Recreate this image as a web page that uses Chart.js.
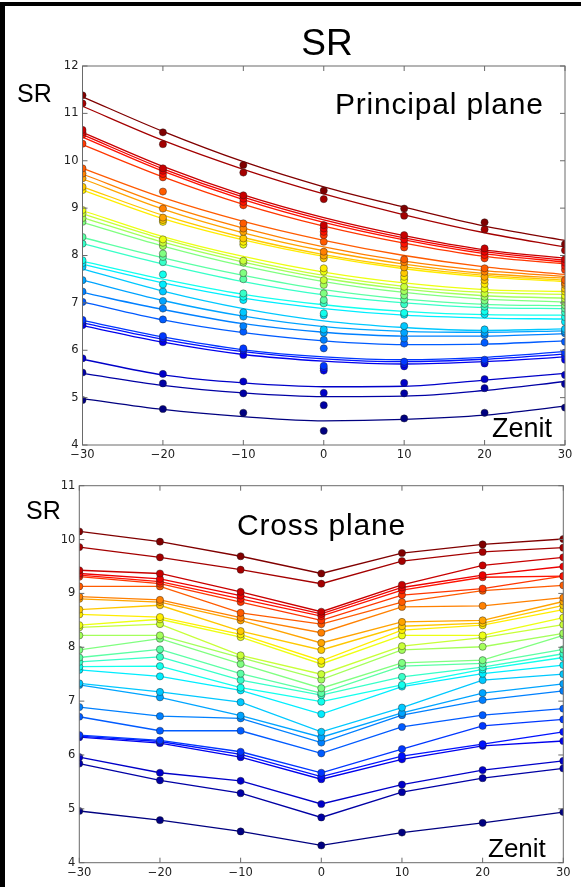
<!DOCTYPE html>
<html>
<head>
<meta charset="utf-8">
<script src="https://cdn.jsdelivr.net/npm/chart.js@4.4.1/dist/chart.umd.min.js"></script>
<style>
  html, body { margin: 0; padding: 0; background: #fff; }
  #page { position: relative; width: 581px; height: 887px; overflow: hidden; background: #fff; }
  #edge { position: absolute; left: 0; top: 2px; width: 600px; height: 900px; border-left: 5px solid #000; border-top: 4px solid #000; box-sizing: border-box; pointer-events: none; }
  canvas { position: absolute; left: 0; }
  #top { top: 0; }
  #bot { top: 470px; }
  .lbl { position: absolute; font-family: "Liberation Sans", Arial, sans-serif; color: #000; line-height: 1; white-space: nowrap; }
</style>
</head>
<body>
<div id="page">
  <canvas id="top" width="581" height="470"></canvas>
  <canvas id="bot" width="581" height="417"></canvas>
  <div class="lbl" style="left:277px;width:100px;text-align:center;top:24px;font-size:37px">SR</div>
  <div class="lbl" style="left:17px;top:81px;font-size:25px">SR</div>
  <div class="lbl" style="left:335px;top:89px;font-size:30px;letter-spacing:0.8px">Principal plane</div>
  <div class="lbl" style="left:492px;top:415px;font-size:27px">Zenit</div>
  <div class="lbl" style="left:26px;top:498px;font-size:25px">SR</div>
  <div class="lbl" style="left:237px;top:510px;font-size:30px;letter-spacing:0.8px">Cross plane</div>
  <div class="lbl" style="left:488px;top:835px;font-size:26px">Zenit</div>
  <div id="edge"></div>
</div>
<script>
// zenith angles (deg)
const zenith = [-30, -20, -10, 0, 10, 20, 30];

// principal plane: measured SR, one row per band (highest first)
const principalPts = [
  [11.38, 10.60, 9.91, 9.37, 8.99, 8.70, 8.24],
  [11.21, 10.35, 9.75, 9.19, 8.84, 8.55, 8.11],
  [10.65, 9.84, 9.27, 8.64, 8.43, 8.15, 7.92],
  [10.60, 9.79, 9.20, 8.57, 8.34, 8.08, 7.85],
  [10.55, 9.72, 9.13, 8.50, 8.25, 8.01, 7.78],
  [10.36, 9.65, 9.06, 8.43, 8.17, 7.94, 7.70],
  [9.84, 9.35, 8.68, 8.29, 7.92, 7.73, 7.48],
  [9.73, 8.99, 8.57, 8.08, 7.86, 7.66, 7.42],
  [9.63, 8.80, 8.50, 8.00, 7.75, 7.55, 7.38],
  [9.45, 8.75, 8.36, 7.94, 7.63, 7.48, 7.30],
  [9.38, 8.71, 8.29, 7.73, 7.55, 7.40, 7.24],
  [8.96, 8.34, 8.23, 7.66, 7.48, 7.30, 7.15],
  [8.89, 8.27, 7.89, 7.48, 7.34, 7.20, 7.09],
  [8.79, 8.20, 7.85, 7.38, 7.25, 7.13, 7.02],
  [8.71, 8.04, 7.63, 7.20, 7.16, 7.05, 6.95],
  [8.39, 7.97, 7.50, 7.06, 7.07, 6.98, 6.88],
  [8.25, 7.86, 7.20, 6.99, 6.97, 6.92, 6.80],
  [7.90, 7.60, 7.13, 6.78, 6.79, 6.82, 6.70],
  [7.84, 7.39, 7.06, 6.74, 6.75, 6.76, 6.60],
  [7.76, 7.24, 6.80, 6.44, 6.51, 6.44, 6.45],
  [7.48, 7.04, 6.71, 6.37, 6.37, 6.37, 6.40],
  [7.24, 6.88, 6.51, 6.22, 6.25, 6.32, 6.36],
  [7.02, 6.65, 6.39, 6.04, 6.14, 6.16, 6.18],
  [6.64, 6.30, 6.04, 5.67, 5.76, 5.80, 5.95],
  [6.60, 6.25, 6.00, 5.62, 5.71, 5.76, 5.88],
  [6.53, 6.17, 5.90, 5.57, 5.66, 5.72, 5.80],
  [5.83, 5.50, 5.34, 5.10, 5.31, 5.39, 5.48],
  [5.53, 5.30, 5.09, 4.84, 5.09, 5.20, 5.29],
  [4.95, 4.76, 4.68, 4.30, 4.56, 4.68, 4.79]
];

// principal plane: fitted curve for each band
const principalFit = [
  [11.35, 10.62, 9.98, 9.45, 9.02, 8.62, 8.32],
  [11.15, 10.43, 9.82, 9.30, 8.86, 8.48, 8.18],
  [10.60, 9.88, 9.28, 8.80, 8.42, 8.12, 7.94],
  [10.55, 9.83, 9.23, 8.75, 8.37, 8.08, 7.90],
  [10.50, 9.78, 9.18, 8.70, 8.33, 8.04, 7.86],
  [10.34, 9.66, 9.08, 8.62, 8.26, 7.98, 7.82],
  [9.84, 9.22, 8.72, 8.32, 8.00, 7.76, 7.60],
  [9.72, 9.08, 8.58, 8.18, 7.88, 7.68, 7.56],
  [9.62, 8.98, 8.48, 8.10, 7.82, 7.62, 7.52],
  [9.45, 8.85, 8.38, 8.02, 7.76, 7.58, 7.48],
  [9.38, 8.78, 8.33, 7.98, 7.72, 7.55, 7.45],
  [8.95, 8.40, 7.98, 7.65, 7.42, 7.28, 7.24],
  [8.88, 8.35, 7.92, 7.58, 7.35, 7.22, 7.18],
  [8.80, 8.28, 7.86, 7.52, 7.29, 7.15, 7.10],
  [8.70, 8.20, 7.78, 7.45, 7.22, 7.08, 7.02],
  [8.38, 7.95, 7.58, 7.28, 7.08, 6.97, 6.94],
  [8.25, 7.82, 7.45, 7.17, 7.00, 6.90, 6.88],
  [7.88, 7.50, 7.18, 6.96, 6.82, 6.75, 6.74],
  [7.82, 7.42, 7.10, 6.88, 6.74, 6.68, 6.66],
  [7.72, 7.25, 6.88, 6.62, 6.48, 6.42, 6.45],
  [7.48, 7.05, 6.72, 6.50, 6.40, 6.38, 6.41],
  [7.22, 6.86, 6.56, 6.38, 6.30, 6.30, 6.35],
  [7.02, 6.64, 6.37, 6.20, 6.12, 6.13, 6.20],
  [6.63, 6.28, 6.01, 5.86, 5.80, 5.85, 5.97],
  [6.58, 6.23, 5.97, 5.82, 5.76, 5.81, 5.92],
  [6.52, 6.17, 5.91, 5.77, 5.71, 5.76, 5.86],
  [5.81, 5.48, 5.31, 5.23, 5.24, 5.37, 5.51],
  [5.51, 5.26, 5.10, 5.02, 5.03, 5.15, 5.34],
  [4.98, 4.75, 4.60, 4.51, 4.54, 4.63, 4.82]
];

// cross plane: measured SR per band
const crossPts = [
  [10.15, 9.96, 9.69, 9.37, 9.75, 9.91, 10.01],
  [9.86, 9.67, 9.44, 9.18, 9.60, 9.77, 9.85],
  [9.43, 9.37, 9.03, 8.66, 9.16, 9.52, 9.67],
  [9.37, 9.27, 8.96, 8.62, 9.11, 9.34, 9.50],
  [9.34, 9.22, 8.90, 8.58, 9.06, 9.30, 9.32],
  [9.31, 9.18, 8.84, 8.50, 8.97, 9.09, 9.32],
  [9.13, 9.13, 8.64, 8.43, 8.84, 9.05, 9.15],
  [8.94, 8.88, 8.55, 8.27, 8.75, 8.77, 8.92],
  [8.90, 8.84, 8.50, 8.08, 8.47, 8.50, 8.85],
  [8.70, 8.78, 8.30, 7.95, 8.39, 8.45, 8.78],
  [8.61, 8.56, 8.24, 7.75, 8.32, 8.41, 8.70],
  [8.41, 8.52, 8.19, 7.69, 8.22, 8.22, 8.55],
  [8.37, 8.43, 7.85, 7.50, 8.02, 8.18, 8.42],
  [8.22, 8.22, 7.81, 7.40, 7.95, 8.01, 8.26],
  [7.95, 8.16, 7.69, 7.24, 7.71, 7.76, 8.22],
  [7.81, 7.96, 7.51, 7.15, 7.65, 7.70, 7.96],
  [7.73, 7.82, 7.39, 7.11, 7.45, 7.63, 7.88],
  [7.64, 7.65, 7.25, 6.99, 7.30, 7.59, 7.81],
  [7.58, 7.46, 7.20, 6.76, 7.27, 7.51, 7.67],
  [7.33, 7.17, 6.98, 6.43, 6.88, 7.39, 7.50],
  [7.30, 7.07, 6.73, 6.33, 6.78, 7.15, 7.32],
  [6.89, 6.72, 6.68, 6.23, 6.74, 7.02, 7.19],
  [6.71, 6.45, 6.45, 6.03, 6.52, 6.74, 6.86],
  [6.37, 6.27, 6.06, 5.67, 6.11, 6.54, 6.66],
  [6.35, 6.25, 6.01, 5.60, 5.98, 6.20, 6.43],
  [6.33, 6.22, 5.96, 5.55, 5.92, 6.17, 6.26],
  [5.96, 5.67, 5.52, 5.09, 5.45, 5.72, 5.89],
  [5.84, 5.53, 5.29, 4.84, 5.31, 5.57, 5.75],
  [4.96, 4.79, 4.58, 4.32, 4.56, 4.74, 4.94]
];

const xTicks = [-30, -20, -10, 0, 10, 20, 30];
const yTicksTop = [4, 5, 6, 7, 8, 9, 10, 11, 12];
const yTicksBot = [4, 5, 6, 7, 8, 9, 10, 11];

// matplotlib "jet"
function jet(t) {
  const c = v => Math.round(255 * Math.max(0, Math.min(1, v)));
  return `rgb(${c(1.5 - Math.abs(4 * t - 3))},${c(1.5 - Math.abs(4 * t - 2))},${c(1.5 - Math.abs(4 * t - 1))})`;
}
const bandColor = (k, n) => jet(1 - k / (n - 1));
const toXY = row => row.map((v, i) => ({ x: zenith[i], y: v }));

// axes box with inward ticks on all four sides
const frame = {
  id: 'frame',
  afterDatasetsDraw(chart) {
    const { ctx, chartArea: a, scales: { x, y } } = chart;
    ctx.save();
    ctx.strokeStyle = '#6a6a6a';
    ctx.lineWidth = 1;
    ctx.strokeRect(a.left, a.top, a.right - a.left, a.bottom - a.top);
    ctx.beginPath();
    x.ticks.forEach(t => {
      const p = x.getPixelForValue(t.value);
      ctx.moveTo(p, a.bottom); ctx.lineTo(p, a.bottom - 5);
      ctx.moveTo(p, a.top); ctx.lineTo(p, a.top + 5);
    });
    y.ticks.forEach(t => {
      const p = y.getPixelForValue(t.value);
      ctx.moveTo(a.left, p); ctx.lineTo(a.left + 5, p);
      ctx.moveTo(a.right, p); ctx.lineTo(a.right - 5, p);
    });
    ctx.stroke();
    ctx.restore();
  }
};

function axes(yMin, yMax, yTicks, yWidth) {
  const font = { family: '"DejaVu Sans", sans-serif', size: 11.5 };
  return {
    x: {
      type: 'linear', min: -30, max: 30,
      afterBuildTicks: s => { s.ticks = xTicks.map(v => ({ value: v })); },
      afterFit: s => { s.height = 20; },
      grid: { display: false, drawTicks: false }, border: { display: false },
      ticks: { font, color: '#222', padding: 3, maxRotation: 0,
        callback: v => v < 0 ? '\u2212' + Math.abs(v) : String(v) }
    },
    y: {
      type: 'linear', min: yMin, max: yMax,
      afterBuildTicks: s => { s.ticks = yTicks.map(v => ({ value: v })); },
      afterFit: s => { s.width = yWidth; },
      grid: { display: false, drawTicks: false }, border: { display: false },
      ticks: { font, color: '#222', padding: 4 }
    }
  };
}

const base = {
  responsive: false, animation: false, events: [],
  plugins: { legend: { display: false }, tooltip: { enabled: false } }
};

const dot = color => ({
  showLine: false, pointRadius: 3.6, pointBackgroundColor: color,
  pointBorderColor: 'rgba(30,30,30,0.7)', pointBorderWidth: 0.6, clip: 0
});

// principal plane: fitted curves + measured points
const topSets = [];
principalFit.forEach((row, k) => {
  const color = bandColor(k, principalFit.length);
  topSets.push({ data: toXY(row), borderColor: color, borderWidth: 1.3, pointRadius: 0,
    cubicInterpolationMode: 'monotone', clip: 0, order: 2 });
});
principalPts.forEach((row, k) => {
  const color = bandColor(k, principalPts.length);
  topSets.push(Object.assign({ data: toXY(row), order: 1 }, dot(color)));
});

new Chart(document.getElementById('top'), {
  type: 'line',
  data: { datasets: topSets },
  options: Object.assign({}, base, {
    layout: { padding: { left: 0, top: 66, right: 16, bottom: 5 } },
    scales: axes(4, 12, yTicksTop, 82.5)
  }),
  plugins: [frame]
});

// cross plane: points joined by straight segments
const botSets = crossPts.map((row, k) => {
  const color = bandColor(k, crossPts.length);
  return Object.assign({ data: toXY(row) }, dot(color),
    { showLine: true, borderColor: color, borderWidth: 1.3, tension: 0 });
});

new Chart(document.getElementById('bot'), {
  type: 'line',
  data: { datasets: botSets },
  options: Object.assign({}, base, {
    layout: { padding: { left: 0, top: 15.7, right: 17.7, bottom: 4.3 } },
    scales: axes(4, 11, yTicksBot, 79.3)
  }),
  plugins: [frame]
});
</script>
</body>
</html>
